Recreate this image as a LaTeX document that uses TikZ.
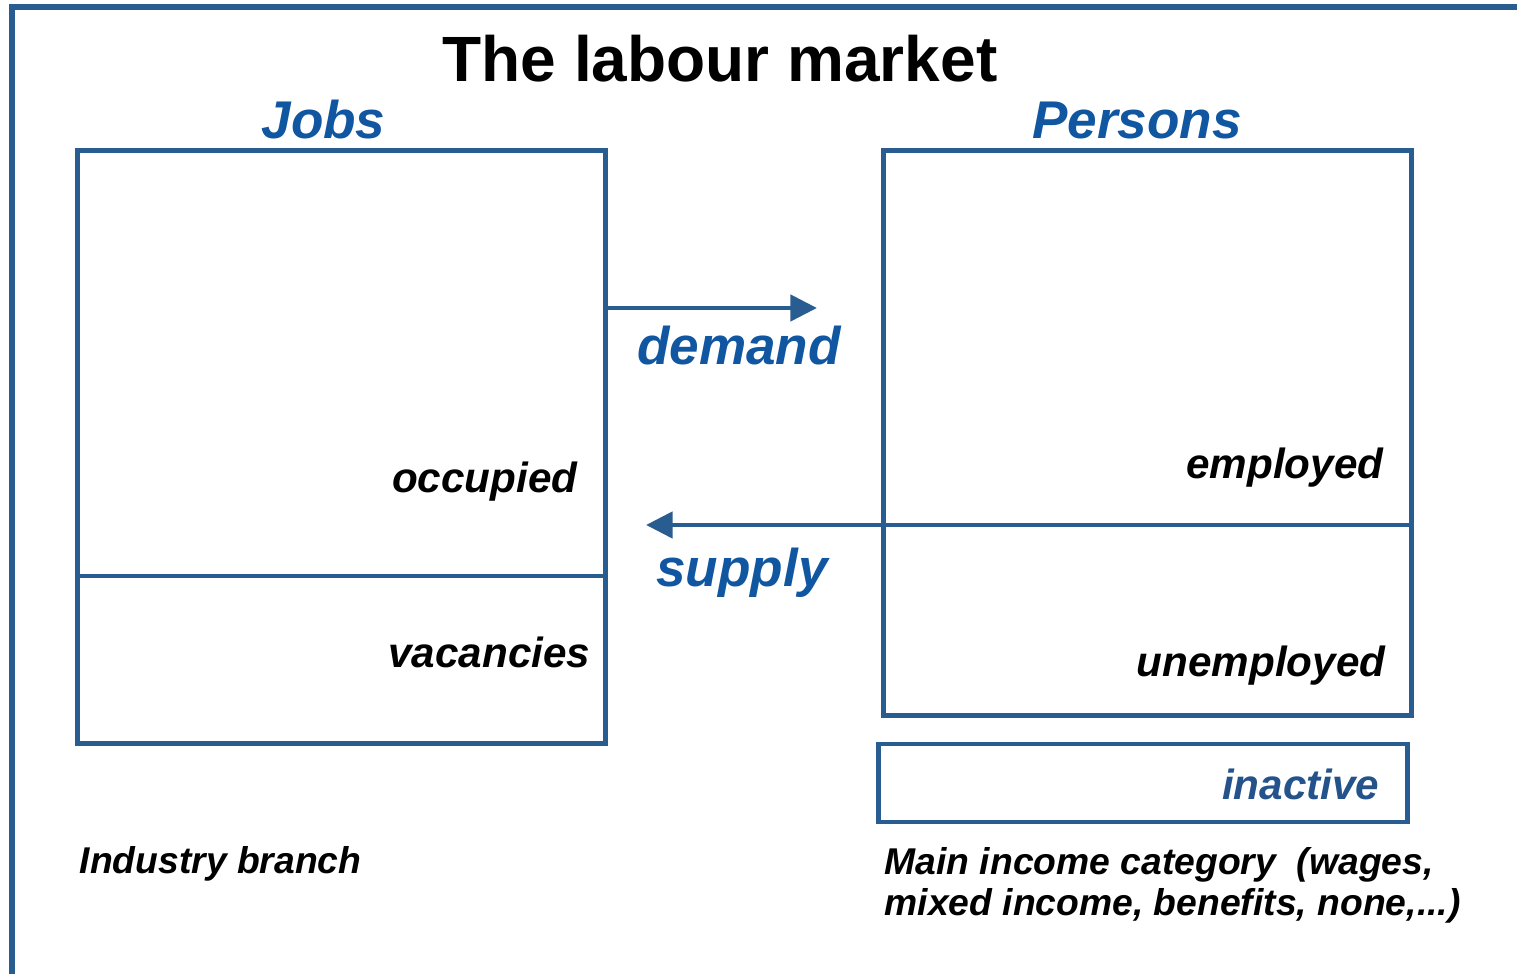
\documentclass[tikz,border=0pt]{standalone}
\usepackage{fontspec}
\setmainfont{Liberation Sans}
\usetikzlibrary{arrows.meta,positioning}
\definecolor{framecol}{RGB}{41,92,145}
\definecolor{labelblue}{RGB}{16,86,160}
\definecolor{inactcol}{RGB}{36,82,138}
\tikzset{
    %Define standard arrow tip
    >={Triangle[length=7.6pt,width=7.4pt]},
    %Define style for boxes
    block/.style={
           rectangle,
           draw=framecol,
           line width=1.4pt,
           inner sep=0pt},
    % Define line styles
    border/.style={
           draw=framecol,
           line width=1.6pt},
    flow/.style={
           draw=framecol,
           line width=1.4pt},
    % Define text styles
    heading/.style={
           inner sep=0pt,
           anchor=base,
           font=\fontsize{15.1}{18}\selectfont\bfseries\itshape,
           text=labelblue},
    tag/.style={
           inner sep=0pt,
           anchor=base east,
           font=\fontsize{12}{14}\selectfont\bfseries\itshape},
    note/.style={
           inner sep=0pt,
           anchor=base west,
           align=left,
           font=\fontsize{10.6}{11.7}\selectfont\bfseries\itshape}
}
\begin{document}
\begin{tikzpicture}[x=0.01cm,y=-0.01cm]
\useasboundingbox (0,0) rectangle (1517,974);
\draw[border] (12,974) -- (12,7) -- (1517,7);

\node[inner sep=0pt, anchor=base, font=\fontsize{18.2}{21}\selectfont\bfseries](title) at (720,82){The labour market};

% boxes
\node[block, minimum width=5.27cm, minimum height=5.92cm](jobs) at (341.5,447){};
\node[block, minimum width=5.27cm, minimum height=5.64cm](persons) at (1147.5,433){};
\node[block, minimum width=5.28cm, minimum height=0.78cm](inactive) at (1143,783){};

\node[heading](jobslabel) at (323.5,139){Jobs};
\node[heading](personslabel) at (1137,139){Persons};

\coordinate (jobscut) at (78,576);
\coordinate (personscut) at (884,525);
\draw[flow] (jobs.west |- jobscut) -- (jobs.east |- jobscut);
\draw[flow] (persons.west |- personscut) -- (persons.east |- personscut);

% flows
\coordinate (demandtip) at (817,308);
\coordinate (supplytip) at (646,525);
\draw[flow,->] (jobs.east |- demandtip) -- (demandtip);
\draw[flow,->] (persons.west |- personscut) -- (supplytip);
\node[heading](demand) at (739,365){demand};
\node[heading](supply) at (742,587){supply};

% labels inside boxes
\node[tag](occupied) at (578,493){occupied};
\node[tag](vacancies) at (591,668){vacancies};
\node[tag](employed) at (1384,479){employed};
\node[tag](unemployed) at (1386,677){unemployed};
\node[tag, text=inactcol](inactivelabel) at (1380,800){inactive};

\node[note](branch) at (79,874){Industry branch};
\node[note](income) at (884,916){Main income category \ (wages,\\mixed income, benefits, none,...)};
\end{tikzpicture}
\end{document}
